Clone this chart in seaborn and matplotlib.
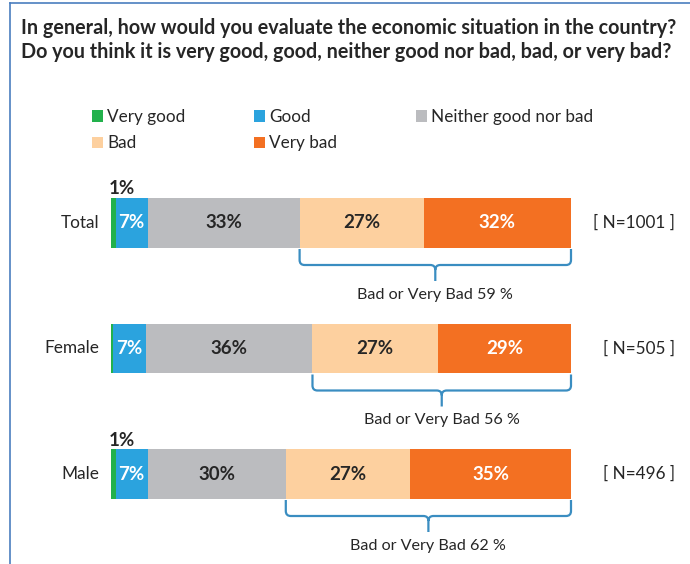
import matplotlib
matplotlib.use("Agg")
import matplotlib.pyplot as plt
from matplotlib.patches import Patch, PathPatch
from matplotlib.path import Path
from matplotlib.lines import Line2D
import pandas as pd
import seaborn as sns

# Survey results (percent of respondents)
groups = ["Total", "Female", "Male"]
sample_sizes = [1001, 505, 496]
categories = ["Very good", "Good", "Neither good nor bad", "Bad", "Very bad"]
very_good = [1, 0.4, 1]
good = [7, 7.2, 7]
neither = [33, 36.2, 30]
bad = [27, 27.3, 27]
very_bad = [32, 28.9, 35]
bad_or_very_bad = [59, 56, 62]

title_lines = [
    "In general, how would you evaluate the economic situation in the country?",
    "Do you think it is very good, good, neither good nor bad, bad, or very bad?",
]

colors = ["#22B14C", "#2BA3DE", "#BBBCBF", "#FDD09F", "#F37022"]
label_colors = ["#262626", "white", "#262626", "#262626", "white"]
TEXT = "#262626"
BRACE = "#3A8DC1"
FRAME = "#4A7EBF"

plt.rcParams["font.family"] = ["Lato", "DejaVu Sans"]

W, H, DPI = 690, 564, 100
fig = plt.figure(figsize=(W / DPI, H / DPI), dpi=DPI)
ax = fig.add_axes([0, 0, 1, 1])

# pixel geometry of the plotting frame
X0, XS = 111, 4.6      # left edge of bars, pixels per percent
Y0, YS = 223, 125.5    # first row centre, pixels between rows


def dx(px):
    return px / XS


def dy(px):
    return px / YS


BAR_H = dy(49.5)

df = pd.DataFrame({"group": groups})
for cat, vals in zip(categories, [very_good, good, neither, bad, very_bad]):
    df[cat] = vals
cum = df[categories].cumsum(axis=1)

# stacked bars: draw cumulative totals from the outermost segment inwards
for cat, col in reversed(list(zip(categories, colors))):
    sns.barplot(x=cum[cat], y=df["group"], order=groups, orient="h",
                color=col, saturation=1, width=BAR_H, linewidth=0,
                errorbar=None, ax=ax)

ax.set_xlim(-X0 / XS, (W - X0) / XS)
ax.set_ylim((H - Y0) / YS, -Y0 / YS)
ax.set_axis_off()

for i, g in enumerate(groups):
    left = 0.0
    for j, cat in enumerate(categories):
        v = df.loc[i, cat]
        if j == 0:
            if v >= 0.5:
                ax.text(-0.4, i - dy(34), f"{v:.0f}%", ha="left", va="center",
                        fontsize=13.5, fontweight="bold", color=TEXT)
        else:
            ax.text(left + v / 2, i, f"{v:.0f}%", ha="center", va="center",
                    fontsize=13.5, fontweight="bold", color=label_colors[j])
        left += v

    # group name and sample size
    ax.text(dx(99 - X0), i, g, ha="right", va="center", fontsize=12.4, color=TEXT)
    ax.text(dx(675 - X0), i, f"[ N={sample_sizes[i]} ]", ha="right", va="center",
            fontsize=12.3, color=TEXT)

    # brace under the Bad + Very bad segments
    xl = cum.loc[i, "Neither good nor bad"]
    xr = cum.loc[i, "Very bad"]
    xc = (xl + xr) / 2
    y_top = i + dy(26)
    y_h = i + dy(42)
    y_stem = i + dy(58)
    rx, ry = dx(5), dy(5)
    verts = [
        (xl, y_top), (xl, y_h - ry), (xl, y_h), (xl + rx, y_h),
        (xc - rx, y_h), (xc, y_h), (xc, y_h + ry), (xc, y_stem),
        (xr, y_top), (xr, y_h - ry), (xr, y_h), (xr - rx, y_h),
        (xc + rx, y_h), (xc, y_h), (xc, y_h + ry),
    ]
    codes = [
        Path.MOVETO, Path.LINETO, Path.CURVE3, Path.CURVE3,
        Path.LINETO, Path.CURVE3, Path.CURVE3, Path.LINETO,
        Path.MOVETO, Path.LINETO, Path.CURVE3, Path.CURVE3,
        Path.LINETO, Path.CURVE3, Path.CURVE3,
    ]
    ax.add_patch(PathPatch(Path(verts, codes), fill=False, edgecolor=BRACE,
                           linewidth=1.6, capstyle="butt", joinstyle="round"))
    ax.text(xc, i + dy(72), f"Bad or Very Bad {bad_or_very_bad[i]} %",
            ha="center", va="center", fontsize=11.6, color=TEXT)

# title
for k, line in enumerate(title_lines):
    fig.text(21 / W, 1 - (34 + 24.5 * k) / H, line, ha="left", va="baseline",
             fontsize=14.2, fontweight="bold", color=TEXT)

# legend: rows Very good, Good, Neither / Bad, Very bad, with evenly spaced columns
patches = {c: Patch(facecolor=col, edgecolor="none") for c, col in zip(categories, colors)}
legend_columns = [["Very good", "Bad"], ["Good", "Very bad"], ["Neither good nor bad"]]
column_x = [92, 254, 416]
for names, x in zip(legend_columns, column_x):
    leg = fig.legend([patches[c] for c in names], names, loc="upper left",
                     bbox_to_anchor=(x / W, 1 - 109 / H), frameon=False,
                     fontsize=12.3, handlelength=0.65, handleheight=0.65,
                     handletextpad=0.25, labelspacing=0.6,
                     borderpad=0, borderaxespad=0, labelcolor=TEXT)

# frame lines
fig.add_artist(Line2D([10 / W, 10 / W], [0, 1 - 3 / H], color=FRAME, linewidth=1.2,
                      transform=fig.transFigure))
fig.add_artist(Line2D([10 / W, 1], [1 - 3 / H, 1 - 3 / H], color=FRAME, linewidth=1.2,
                      transform=fig.transFigure))

fig.savefig("out.png", dpi=DPI, facecolor="white")
